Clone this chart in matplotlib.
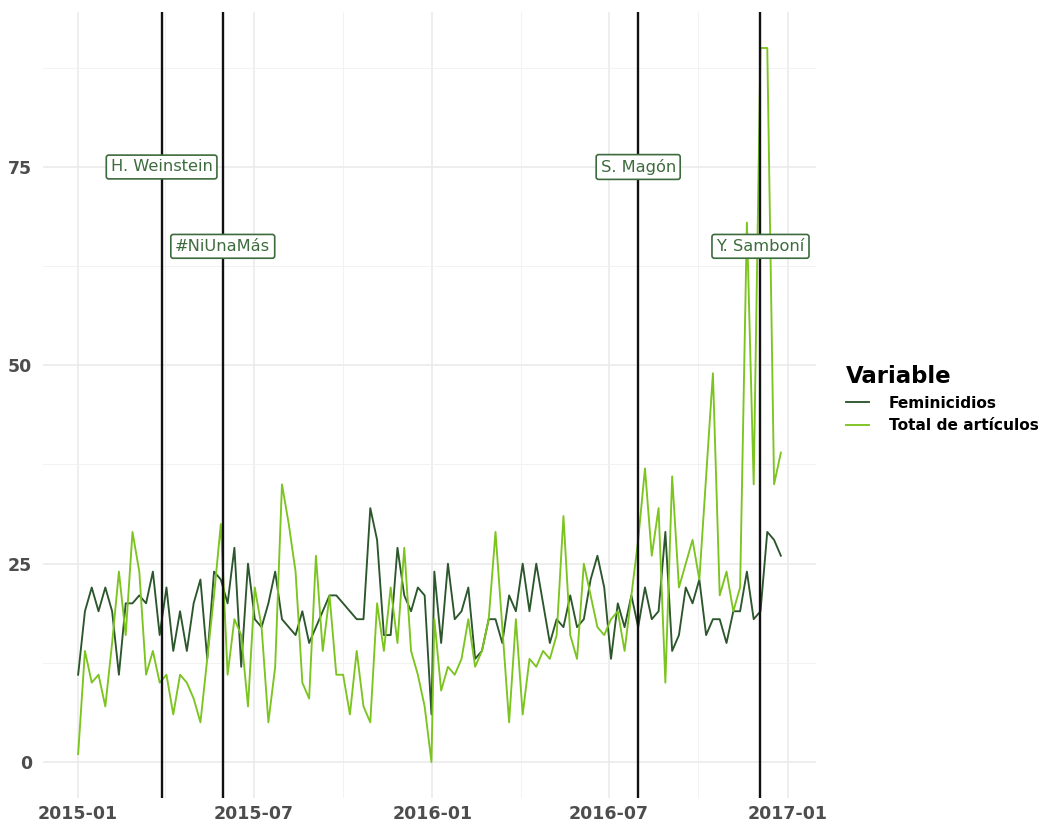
import numpy as np
import pandas as pd
import matplotlib
matplotlib.use('Agg')
import matplotlib.pyplot as plt
import matplotlib.dates as mdates
from matplotlib.lines import Line2D

# weekly counts; 2015 ends on a partial week (Dec 31), 2016 weeks start on Jan 3
weeks_2015 = pd.date_range('2015-01-01', periods=53, freq='7D')
weeks_2016 = pd.date_range('2016-01-03', periods=52, freq='7D')

feminicidios_2015 = [11, 19, 22, 19, 22, 19, 11, 20, 20, 21, 20, 24, 16, 22, 14, 19, 14, 20, 23, 13,
                     24, 23, 20, 27, 12, 25, 18, 17, 20, 24, 18, 17, 16, 19, 15, 17, 19, 21, 21, 20,
                     19, 18, 18, 32, 28, 16, 16, 27, 21, 19, 22, 21, 6]
feminicidios_2016 = [24, 15, 25, 18, 19, 22, 13, 14, 18, 18, 15, 21, 19, 25, 19, 25, 20, 15, 18, 17,
                     21, 17, 18, 23, 26, 22, 13, 20, 17, 21, 17, 22, 18, 19, 29, 14, 16, 22, 20, 23,
                     16, 18, 18, 15, 19, 19, 24, 18, 19, 29, 28, 26]
total_2015 = [1, 14, 10, 11, 7, 15, 24, 16, 29, 24, 11, 14, 10, 11, 6, 11, 10, 8, 5, 13,
              21, 30, 11, 18, 16, 7, 22, 17, 5, 12, 35, 30, 24, 10, 8, 26, 14, 21, 11, 11,
              6, 14, 7, 5, 20, 14, 22, 15, 27, 14, 11, 7, 0]
total_2016 = [18, 9, 12, 11, 13, 18, 12, 14, 18, 29, 17, 5, 18, 6, 13, 12, 14, 13, 16, 31,
              16, 13, 25, 21, 17, 16, 18, 19, 14, 21, 28, 37, 26, 32, 10, 36, 22, 25, 28, 23,
              36, 49, 21, 24, 19, 22, 68, 35, 90, 90, 35, 39]

event_dates = ['2015-03-28', '2015-05-30', '2016-07-31', '2016-12-04']
event_labels = ['H. Weinstein', '#NiUnaMás', 'S. Magón', 'Y. Samboní']
event_label_y = [75, 65, 75, 65]

series_names = ['Feminicidios', 'Total de artículos']
series_colors = ['#2c562c', '#7cc41f']
label_color = '#3d6b3d'

dates = weeks_2015.append(weeks_2016)
fem = np.array(feminicidios_2015 + feminicidios_2016)
tot = np.array(total_2015 + total_2016)

fig = plt.figure(figsize=(10.41, 8.26), dpi=100)
ax = fig.add_axes([43 / 1041, 1 - 797.7 / 826, 773 / 1041, 785.4 / 826])

ax.plot(dates, fem, color=series_colors[0], lw=1.35, zorder=3)
ax.plot(dates, tot, color=series_colors[1], lw=1.35, zorder=3)

for d in event_dates:
    ax.axvline(pd.Timestamp(d), color='#111111', lw=1.7, zorder=4)
for d, lab, y in zip(event_dates, event_labels, event_label_y):
    ax.text(pd.Timestamp(d), y, lab, ha='center', va='center', fontsize=11.7,
            color=label_color, zorder=6,
            bbox=dict(boxstyle='round,pad=0.27,rounding_size=0.15', fc='white',
                      ec=label_color, lw=1.2))

# limits with ggplot-like 5% expansion
x0, x1 = mdates.date2num(dates[0]), mdates.date2num(dates[-1])
pad = 0.05 * (x1 - x0)
ax.set_xlim(x0 - pad, x1 + pad)
ymax = max(fem.max(), tot.max())
ax.set_ylim(-0.05 * ymax, 1.05 * ymax)

ax.set_yticks([0, 25, 50, 75])
ax.set_yticks([12.5, 37.5, 62.5, 87.5], minor=True)
major_x = pd.to_datetime(['2015-01-01', '2015-07-01', '2016-01-01', '2016-07-01', '2017-01-01'])
minor_x = pd.to_datetime(['2015-04-01', '2015-10-01', '2016-04-01', '2016-10-01'])
ax.set_xticks(major_x)
ax.set_xticks(minor_x, minor=True)
ax.xaxis.set_major_formatter(mdates.DateFormatter('%Y-%m'))

ax.grid(True, which='major', color='#ebebeb', lw=1.2)
ax.grid(True, which='minor', color='#f2f2f2', lw=0.7)
ax.set_axisbelow(True)
for s in ax.spines.values():
    s.set_visible(False)
ax.tick_params(which='both', length=0)
ax.tick_params(axis='x', pad=5)
ax.tick_params(axis='y', pad=8)
for t in ax.get_xticklabels() + ax.get_yticklabels():
    t.set_fontsize(12.5)
    t.set_fontweight('bold')
    t.set_color('#4d4d4d')

handles = [Line2D([], [], color=c, lw=1.35) for c in series_colors]
leg = fig.legend(handles, series_names, loc='upper left',
                 bbox_to_anchor=(832 / 1041, 1 - 351 / 826), frameon=False,
                 title='Variable', handlelength=1.5, handletextpad=1.3,
                 labelspacing=0.5, prop={'size': 11.1, 'weight': 'bold'})
leg.get_title().set_fontsize(16.4)
leg.get_title().set_fontweight('bold')
leg._legend_box.align = 'left'

fig.savefig('out.png', dpi=100)
